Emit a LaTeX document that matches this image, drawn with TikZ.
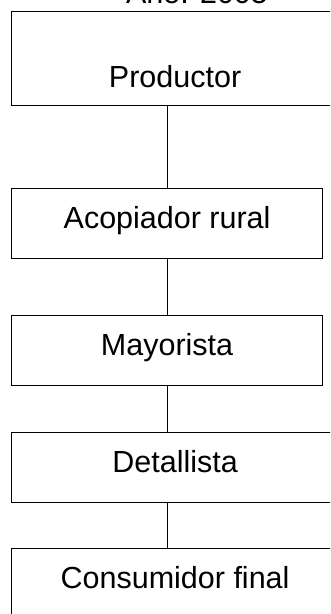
\documentclass[tikz,border=0pt]{standalone}
\usepackage{fontspec}
\setmainfont{Liberation Sans}
\begin{document}
\begin{tikzpicture}[x=1pt,y=-1pt,
  every node/.style={font=\fontsize{30.5}{36}\selectfont, inner sep=0pt},
  box/.style={draw=black, line width=1.2pt, rectangle, text height=40pt, text depth=30pt},
  widebox/.style={box, minimum width=327pt},
  narrowbox/.style={box, minimum width=311pt},
  link/.style={draw=black, line width=1.2pt}]
\useasboundingbox (0,0) rectangle (330,614);
\clip (0,0) rectangle (330,614);
\node[anchor=base] (title) at (197,3.5) {Año: 2005};
\node[widebox, text height=76pt, text depth=18pt, anchor=north west] (prod) at (11,11) {Productor};
\node[narrowbox, anchor=north west] (acop) at (11,188) {Acopiador rural};
\node[narrowbox, anchor=north west] (may) at (11,315) {Mayorista};
\node[widebox, anchor=north west] (det) at (11,432) {Detallista};
\node[widebox, anchor=north west] (cons) at (11,548) {Consumidor final};
\draw[link] (acop.north |- prod.south) -- (acop.north);
\draw[link] (acop.south) -- (may.north);
\draw[link] (may.south) -- (may.south |- det.north);
\draw[link] (may.south |- det.south) -- (may.south |- cons.north);
\end{tikzpicture}
\end{document}
